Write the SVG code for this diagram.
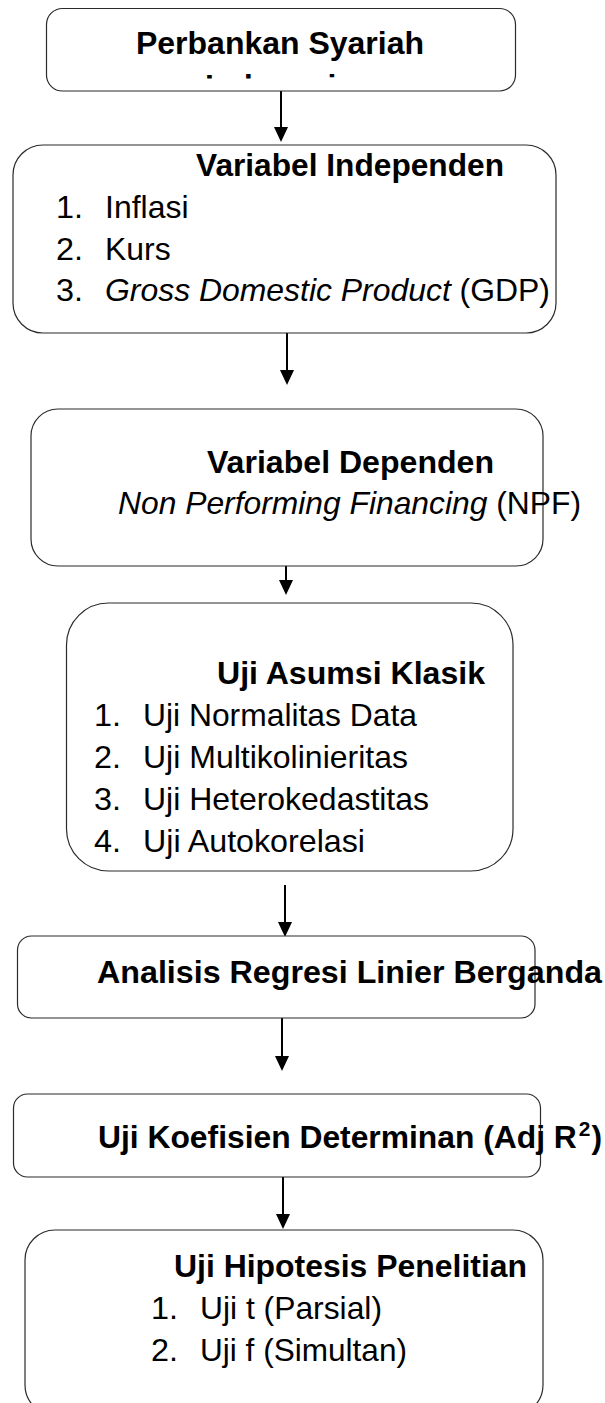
<svg xmlns="http://www.w3.org/2000/svg" width="605" height="1403" viewBox="0 0 605 1403">
  <style>
    .box { fill: #ffffff; stroke: #2b2b2b; stroke-width: 1.2; }
    .t { font-family: "Liberation Sans", Arial, sans-serif; font-size: 32px; fill: #000000; }
    .b { font-weight: bold; }
    .it { font-style: italic; }
    .conn { stroke: #000000; stroke-width: 2; fill: none; }
  </style>
  <defs>
    <marker id="arrowhead" markerUnits="userSpaceOnUse" markerWidth="15" markerHeight="14" refX="7" refY="7" orient="auto">
      <path d="M0,0 L15,7 L0,14 Z" fill="#000000"/>
    </marker>
    <!-- second title line sits below the box edge; only the tops of its tall letters show -->
    <clipPath id="clip-top">
      <rect x="46" y="0" width="470" height="78.5"/>
    </clipPath>
  </defs>

  <!-- connectors -->
  <g id="connectors">
    <line class="conn" x1="281" y1="91" x2="281" y2="134" marker-end="url(#arrowhead)"/>
    <line class="conn" x1="287" y1="333" x2="287" y2="377" marker-end="url(#arrowhead)"/>
    <line class="conn" x1="286" y1="543" x2="286" y2="587" marker-end="url(#arrowhead)"/>
    <line class="conn" x1="285" y1="885" x2="285" y2="929" marker-end="url(#arrowhead)"/>
    <line class="conn" x1="282" y1="1018" x2="282" y2="1063" marker-end="url(#arrowhead)"/>
    <line class="conn" x1="283" y1="1177" x2="283" y2="1221" marker-end="url(#arrowhead)"/>
  </g>

  <g id="node-perbankan">
    <rect class="box" x="46.5" y="8.5" width="469" height="82.5" rx="16"/>
    <text class="t b" x="136" y="54" textLength="288" lengthAdjust="spacingAndGlyphs">Perbankan Syariah</text>
    <text class="t b" x="205" y="96.5" textLength="149" lengthAdjust="spacingAndGlyphs" clip-path="url(#clip-top)">Indonesia</text>
  </g>

  <g id="node-independen">
    <rect class="box" x="13" y="145" width="543" height="188" rx="30"/>
    <text class="t b" x="196" y="176" textLength="308" lengthAdjust="spacingAndGlyphs">Variabel Independen</text>
    <text class="t" x="56" y="218" textLength="27" lengthAdjust="spacingAndGlyphs">1.</text>
    <text class="t" x="105" y="218" textLength="83.5" lengthAdjust="spacingAndGlyphs">Inflasi</text>
    <text class="t" x="56" y="260" textLength="27" lengthAdjust="spacingAndGlyphs">2.</text>
    <text class="t" x="105" y="260" textLength="65.7" lengthAdjust="spacingAndGlyphs">Kurs</text>
    <text class="t" x="56" y="301" textLength="27" lengthAdjust="spacingAndGlyphs">3.</text>
    <text class="t" x="105" y="301" textLength="445" lengthAdjust="spacingAndGlyphs"><tspan class="it">Gross Domestic Product</tspan> (GDP)</text>
  </g>

  <g id="node-dependen">
    <rect class="box" x="31" y="409" width="512" height="157" rx="27"/>
    <text class="t b" x="207" y="473" textLength="287" lengthAdjust="spacingAndGlyphs">Variabel Dependen</text>
    <text class="t" x="118" y="514" textLength="463" lengthAdjust="spacingAndGlyphs"><tspan class="it">Non Performing Financing</tspan> (NPF)</text>
  </g>

  <g id="node-asumsi">
    <rect class="box" x="66.5" y="603" width="446.5" height="268" rx="42"/>
    <text class="t b" x="217" y="684" textLength="268" lengthAdjust="spacingAndGlyphs">Uji Asumsi Klasik</text>
    <text class="t" x="94" y="726" textLength="27" lengthAdjust="spacingAndGlyphs">1.</text>
    <text class="t" x="143" y="726" textLength="274" lengthAdjust="spacingAndGlyphs">Uji Normalitas Data</text>
    <text class="t" x="94" y="768" textLength="27" lengthAdjust="spacingAndGlyphs">2.</text>
    <text class="t" x="143" y="768" textLength="265" lengthAdjust="spacingAndGlyphs">Uji Multikolinieritas</text>
    <text class="t" x="94" y="810" textLength="27" lengthAdjust="spacingAndGlyphs">3.</text>
    <text class="t" x="143" y="810" textLength="286" lengthAdjust="spacingAndGlyphs">Uji Heterokedastitas</text>
    <text class="t" x="94" y="852" textLength="27" lengthAdjust="spacingAndGlyphs">4.</text>
    <text class="t" x="143" y="852" textLength="222" lengthAdjust="spacingAndGlyphs">Uji Autokorelasi</text>
  </g>

  <g id="node-regresi">
    <rect class="box" x="17.5" y="936" width="517.5" height="82" rx="14"/>
    <text class="t b" x="97" y="983" textLength="505" lengthAdjust="spacingAndGlyphs">Analisis Regresi Linier Berganda</text>
  </g>

  <g id="node-determinan">
    <rect class="box" x="13.5" y="1094" width="527" height="83" rx="14"/>
    <text class="t b" x="98" y="1148" textLength="504" lengthAdjust="spacingAndGlyphs">Uji Koefisien Determinan (Adj R<tspan font-size="21" dx="2" dy="-12">2</tspan><tspan dx="1" dy="12">)</tspan></text>
  </g>

  <g id="node-hipotesis">
    <rect class="box" x="25" y="1230" width="518" height="185" rx="30"/>
    <text class="t b" x="174" y="1277" textLength="353" lengthAdjust="spacingAndGlyphs">Uji Hipotesis Penelitian</text>
    <text class="t" x="151" y="1319" textLength="27" lengthAdjust="spacingAndGlyphs">1.</text>
    <text class="t" x="200" y="1319" textLength="182" lengthAdjust="spacingAndGlyphs">Uji t (Parsial)</text>
    <text class="t" x="151" y="1361" textLength="27" lengthAdjust="spacingAndGlyphs">2.</text>
    <text class="t" x="200" y="1361" textLength="207" lengthAdjust="spacingAndGlyphs">Uji f (Simultan)</text>
  </g>
</svg>
